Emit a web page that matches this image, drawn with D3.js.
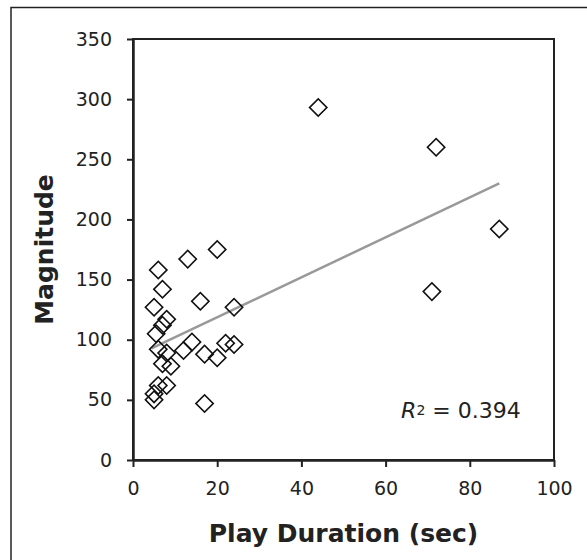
<!DOCTYPE html>
<html>
<head>
<meta charset="utf-8">
<script src="https://cdn.jsdelivr.net/npm/d3@7"></script>
<style>
  body { margin: 0; background: #fff; }
  svg text { font-family: "DejaVu Sans", Verdana, sans-serif; fill: #222; }
</style>
</head>
<body>
<div class="chart"></div>
<script>
// play duration (sec) vs magnitude
var duration = [44, 72, 87, 71, 6, 13, 20, 7, 16, 24, 5, 8, 7, 5.5, 6, 8, 12, 14, 17, 20, 22, 24, 7, 9, 8, 6, 5, 5, 17];
var magnitude = [293, 260, 192, 140, 158, 167, 175, 142, 132, 127, 127, 117, 112, 105, 92, 89, 91, 98, 88, 85, 97, 96, 80, 78, 62, 62, 55, 50, 47];

var xTicks = [0, 20, 40, 60, 80, 100];
var yTicks = [0, 50, 100, 150, 200, 250, 300, 350];

// linear trend as drawn in the original
var trendSlope = 1.66,
    trendIntercept = 85.5,
    rSquared = "0.394";

var margin = {top: 39, right: 33, bottom: 100, left: 133},
    width = 587 - margin.left - margin.right,
    height = 560 - margin.top - margin.bottom;

var x = d3.scaleLinear().domain([0, 100]).range([0, width]);
var y = d3.scaleLinear().domain([0, 350]).range([height, 0]);

var svg = d3.select('.chart')
  .append('svg')
    .attr('width', 587)
    .attr('height', 560);

// outer frame (right and bottom edges fall outside the picture)
svg.append('rect')
    .attr('x', 11)
    .attr('y', 7.5)
    .attr('width', 620)
    .attr('height', 620)
    .attr('fill', 'none')
    .attr('stroke', '#222')
    .attr('stroke-width', 1.5);

var graph = svg.append('g')
    .attr('transform', 'translate(' + margin.left + ',' + margin.top + ')');

// plot box
graph.append('rect')
    .attr('width', width)
    .attr('height', height)
    .attr('fill', 'none')
    .attr('stroke', '#222')
    .attr('stroke-width', 2);

// x-axis
var gx = graph.append('g')
    .attr('transform', 'translate(0,' + height + ')')
    .call(d3.axisBottom(x).tickValues(xTicks).tickSize(7).tickPadding(15).tickSizeOuter(0));

// y-axis
var gy = graph.append('g')
    .call(d3.axisLeft(y).tickValues(yTicks).tickSize(6).tickPadding(15).tickSizeOuter(0));

[gx, gy].forEach(function(g) {
  g.select('.domain').attr('stroke', '#222').attr('stroke-width', 2.5);
  g.selectAll('.tick line').attr('stroke', '#222').attr('stroke-width', 2);
  g.selectAll('.tick text')
    .style('font-size', '19px')
    .style('font-family', '"DejaVu Sans", Verdana, sans-serif')
    .attr('fill', '#222');
});

// trend line
var xExt = d3.extent(duration);
var line = d3.line()
    .x(function(d) { return x(d); })
    .y(function(d) { return y(trendIntercept + trendSlope * d); });

graph.append('path')
    .datum([xExt[0] - 0.6, xExt[1]])
    .attr('d', line)
    .attr('fill', 'none')
    .attr('stroke', '#999')
    .attr('stroke-width', 2.5);

// open diamonds
var diamond = d3.symbol().type(d3.symbolSquare).size(150);

graph.selectAll('.dot')
    .data(duration)
  .enter().append('path')
    .attr('class', 'dot')
    .attr('d', diamond)
    .attr('transform', function(d, i) {
      return 'translate(' + x(d) + ',' + y(magnitude[i]) + ') rotate(45)';
    })
    .attr('fill', 'none')
    .attr('stroke', '#111')
    .attr('stroke-width', 1.6);

// R squared label
var r2 = graph.append('text')
    .attr('x', x(92.1))
    .attr('y', y(35))
    .attr('text-anchor', 'end')
    .style('font-size', '22px');
r2.append('tspan').style('font-style', 'italic').text('R');
r2.append('tspan').style('font-size', '14px').attr('dy', -3).text('2');
r2.append('tspan').attr('dy', 3).text(' = ' + rSquared);

// axis titles
graph.append('text')
    .attr('x', width / 2)
    .attr('y', height + 82)
    .attr('text-anchor', 'middle')
    .style('font-size', '25px')
    .style('font-weight', 'bold')
    .text('Play Duration (sec)');

graph.append('text')
    .attr('transform', 'translate(' + (-80) + ',' + (height / 2) + ') rotate(-90)')
    .attr('text-anchor', 'middle')
    .style('font-size', '25px')
    .style('font-weight', 'bold')
    .text('Magnitude');
</script>
</body>
</html>
